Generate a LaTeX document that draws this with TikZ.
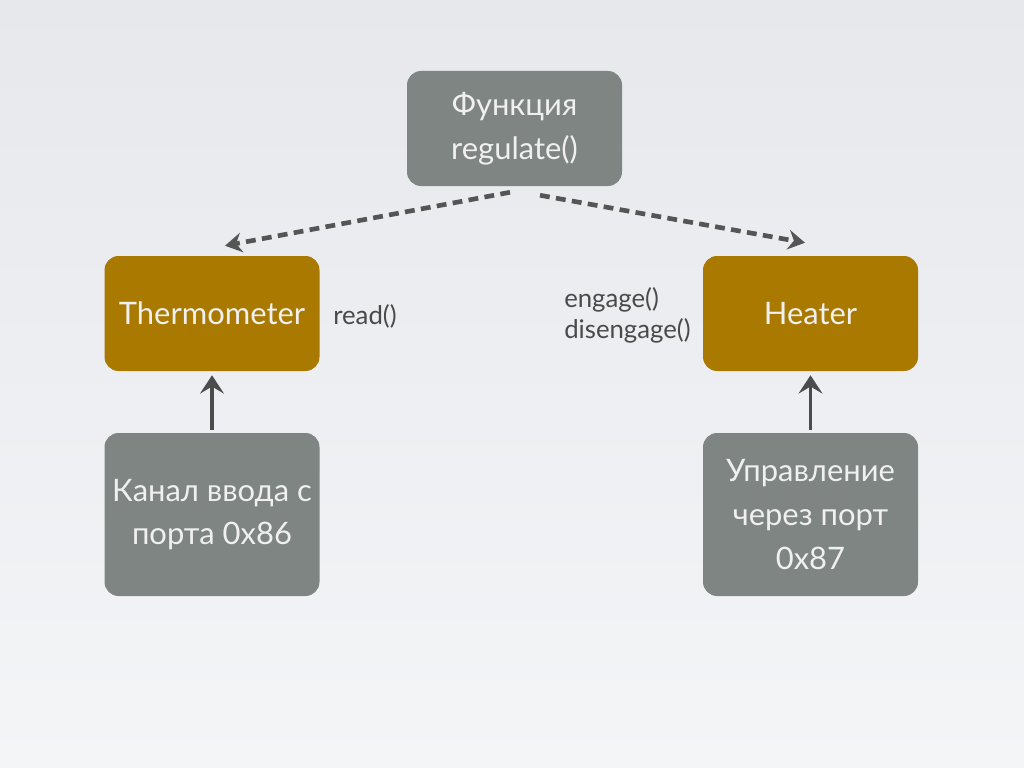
\documentclass[tikz,border=0pt]{standalone}
\usepackage{fontspec}
\setmainfont{Lato}
\usepackage{tikz}
\usetikzlibrary{positioning, calc, arrows.meta}
\definecolor{boxgray}{HTML}{7F8582}
\definecolor{boxgold}{HTML}{A97900}
\definecolor{linegray}{HTML}{555555}
\definecolor{labelgray}{HTML}{4A4A4A}
\definecolor{bgtop}{HTML}{E6E8EC}
\definecolor{bgbottom}{HTML}{F4F5F7}

\begin{document}
\begin{tikzpicture}[x=0.025cm, y=-0.025cm,
        box/.style={rounded corners=10pt, minimum width=215*0.025cm, minimum height=115*0.025cm,
            text=white!94!black, font=\fontsize{22}{31}\selectfont, align=center, inner sep=0pt},
        graybox/.style={box, fill=boxgray},
        goldbox/.style={box, fill=boxgold},
        tallbox/.style={graybox, minimum height=163*0.025cm},
        call/.style={text=labelgray, font=\fontsize{18.3}{22}\selectfont, align=left, inner sep=0pt},
        dasharrow/.style={draw=linegray, line width=3.3pt, dash pattern=on 7pt off 4.5pt,
            -{Stealth[length=12pt, width=14pt, inset=4pt]}},
        uparrow/.style={draw=linegray!90!black, line width=2.2pt,
            -{Stealth[length=13pt, width=17pt, inset=5pt]}}]
        % background
        \shade[top color=bgtop, bottom color=bgbottom] (0,0) rectangle (1024,768);
        \useasboundingbox (0,0) rectangle (1024,768);
        % nodes
        \node[graybox]  (regulate) at (514.5, 128.5) {Функция\\regulate()};
        \node[goldbox]  (thermo)   at (212, 313.5)   {Thermometer};
        \node[goldbox]  (heater)   at (810.5, 313.5) {Heater};
        \node[tallbox]  (port86)   at (212, 514.5)   {Канал ввода с\\порта 0x86};
        \node[tallbox]  (port87)   at (810.5, 514.5) {Управление\\через порт\\0x87};
        \node[call, anchor=west] (read)   at (333, 316) {read()};
        \node[call, anchor=west] (engage) at (564, 315) {engage()\\disengage()};
        % arrows
        \draw[dasharrow] ([shift={(-4.5,6)}]regulate.south) -- ([shift={(13,-10)}]thermo.north);
        \draw[dasharrow] ([shift={(25.5,9)}]regulate.south) -- ([shift={(-5.5,-13)}]heater.north);
        \draw[uparrow] ([shift={(0,-3)}]port86.north) -- ([shift={(0,4)}]thermo.south);
        \draw[uparrow] ([shift={(0,-3)}]port87.north) -- ([shift={(0,4)}]heater.south);
\end{tikzpicture}
\end{document}
